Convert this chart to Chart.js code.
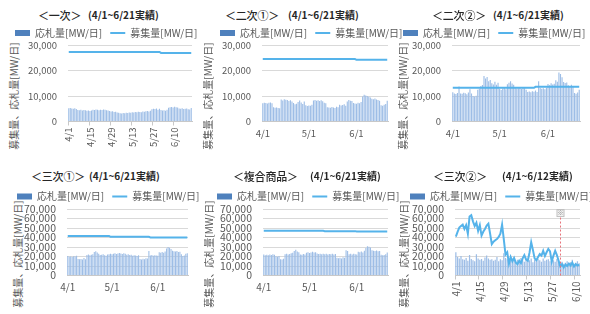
<!DOCTYPE html>
<html>
<head>
<meta charset="utf-8">
<script src="https://cdn.jsdelivr.net/npm/chart.js@4.4.0/dist/chart.umd.min.js"></script>
<style>
  html, body { margin: 0; padding: 0; background: #fff; }
  body { position: relative; width: 590px; height: 314px; overflow: hidden; font-family: "Noto Sans CJK JP", sans-serif; }
  canvas { position: absolute; }
  .ttl { position: absolute; white-space: nowrap; line-height: 16px; color: #262626; }
  .ttl.main { font-size: 11px; font-weight: 500; letter-spacing: -0.2px; }
  .ttl.sub { font-size: 10px; font-weight: bold; }
  .ytitle { position: absolute; white-space: nowrap; font-size: 10px; line-height: 12px; color: #595959;
            transform: translate(-50%, -50%) rotate(-90deg); }
</style>
</head>
<body>
<script>
'use strict';

// 4/1 - 6/21 (82 days) and 4/1 - 6/12 (73 days)
const days621 = dayLabels(82);
const days612 = dayLabels(73);

const TICKS_MONTH = ['4/1', '5/1', '6/1'];
const TICKS_2WEEK = ['4/1', '4/15', '4/29', '5/13', '5/27', '6/10'];

// <一次>
const ichijiBids = [
  5200, 5300, 5100, 5000, 5200, 4900, 4500, 4400, 4600, 4300,
  4500, 4400, 4200, 4300, 4100, 4300, 4600, 4500, 4700, 4600,
  4400, 4600, 4500, 4700, 4600, 4400, 4300, 4100, 3900, 4000,
  3700, 3800, 3500, 3400, 3200, 3100, 3300, 3200, 3400, 3300,
  3500, 3400, 3600, 3500, 3700, 3600, 3800, 3700, 3600, 3900,
  3800, 4000, 4100, 3900, 4200, 4800, 5000, 4900, 5100, 4600,
  5000, 4500, 4300, 4400, 4200, 4600, 5400, 5600, 5700, 5500,
  5800, 5600, 5500, 5100, 5000, 5200, 4900, 5000, 5100, 4800,
  4700, 5300
];
const ichijiRecruit = [
  27300, 27300, 27300, 27300, 27300, 27300, 27300, 27300, 27300, 27300,
  27300, 27300, 27300, 27300, 27300, 27300, 27300, 27300, 27300, 27300,
  27300, 27300, 27300, 27300, 27300, 27300, 27300, 27300, 27300, 27300,
  27300, 27300, 27300, 27300, 27300, 27300, 27300, 27300, 27300, 27300,
  27300, 27300, 27300, 27300, 27300, 27300, 27300, 27300, 27300, 27300,
  27300, 27300, 27300, 27300, 27300, 27300, 27300, 27300, 27300, 27300,
  27300, 26900, 26900, 26900, 26900, 26900, 26900, 26900, 26900, 26900,
  26900, 26900, 26900, 26900, 26900, 26900, 26900, 26900, 26900, 26900,
  26900, 26900
];

// <二次①>
const niji1Bids = [
  7200, 7400, 7300, 7100, 7400, 7500, 7200, 5600, 5400, 5500,
  5300, 5200, 8600, 8200, 8700, 8500, 8400, 8000, 8300, 7800,
  7300, 6800, 7000, 7600, 8200, 7500, 6900, 7800, 6400, 6100,
  6300, 6200, 6600, 8200, 8400, 8100, 8300, 8000, 8300, 7900,
  7400, 7200, 5600, 5500, 5400, 5700, 5500, 5300, 5800, 5600,
  6600, 6300, 6500, 6800, 6200, 7800, 8400, 8100, 8000, 7300,
  7100, 7000, 7400, 7200, 7600, 9800, 10500, 10200, 10000, 9700,
  9400, 8900, 8700, 9000, 8600, 8400, 8100, 6400, 6200, 6600,
  6900, 8100
];
const niji1Recruit = [
  24500, 24500, 24500, 24500, 24500, 24500, 24500, 24500, 24500, 24500,
  24500, 24500, 24500, 24500, 24500, 24500, 24500, 24500, 24500, 24500,
  24500, 24500, 24500, 24500, 24500, 24500, 24500, 24500, 24500, 24500,
  24500, 24500, 24500, 24500, 24500, 24500, 24500, 24500, 24500, 24500,
  24500, 24500, 24500, 24500, 24500, 24500, 24500, 24500, 24500, 24500,
  24500, 24500, 24500, 24500, 24500, 24500, 24500, 24500, 24500, 24500,
  24500, 24200, 24200, 24200, 24200, 24200, 24200, 24200, 24200, 24200,
  24200, 24200, 24200, 24200, 24200, 24200, 24200, 24200, 24200, 24200,
  24200, 24200
];

// <二次②>
const niji2Bids = [
  11500, 11000, 10800, 11200, 13700, 11000, 10900, 11300, 11100, 10700,
  11400, 12600, 11000, 10000, 9800, 10100, 12500, 12800, 13900, 14300,
  17800, 16900, 17500, 15800, 16300, 15000, 14500, 15600, 14400, 15200,
  12800, 12400, 12900, 13100, 12600, 14600, 15200, 15800, 14900, 14400,
  13300, 12900, 13000, 13400, 12700, 13200, 13000, 12500, 11600, 11800,
  11500, 11900, 11700, 12200, 11600, 15800, 13100, 12800, 13000, 12600,
  13200, 14700, 14200, 15000, 14500, 14800, 16200, 15600, 19200, 18600,
  17400, 15500, 15100, 15300, 14200, 13900, 14400, 13800, 11200, 10900,
  11400, 12500
];
const niji2Recruit = [
  13200, 13200, 13200, 13200, 13200, 13200, 13200, 13200, 13200, 13200,
  13200, 13200, 13200, 13200, 13200, 13200, 13200, 13200, 13200, 13200,
  13200, 13200, 13200, 13200, 13200, 13200, 13200, 13200, 13200, 13200,
  13200, 13200, 13200, 13200, 13200, 13200, 13200, 13200, 13200, 13200,
  13200, 13200, 13200, 13200, 13200, 13200, 13200, 13200, 13200, 13200,
  13200, 13200, 13200, 13600, 13600, 13600, 13600, 13600, 13600, 13600,
  13600, 13600, 13600, 13600, 13600, 13600, 13600, 13600, 13600, 13600,
  13600, 13600, 13600, 13600, 13600, 13600, 13600, 13600, 13600, 13600,
  13600, 13600
];

// <三次①>
const sanji1Bids = [
  20500, 19800, 20100, 19600, 20300, 19900, 20800, 17500, 17000, 17300,
  16800, 18500, 17200, 21500, 22000, 21200, 21800, 22500, 24800, 25600,
  24200, 23000, 21600, 21900, 22400, 21300, 20800, 22000, 22500, 23000,
  22300, 22800, 23500, 22600, 23200, 23800, 23100, 22600, 23400, 22900,
  21800, 22400, 21500, 21900, 20800, 21300, 21000, 20600, 21200, 17400,
  16900, 17600, 17100, 18200, 17800, 25800, 21000, 21500, 20800, 21400,
  21100, 20700, 24500, 24000, 24800, 23900, 25200, 28500, 30000, 29200,
  28000, 26000, 25500, 25200, 25800, 24800, 25000, 22500, 20500, 21000,
  22800, 23500
];
const sanji1Recruit = [
  41700, 41700, 41700, 41700, 41700, 41700, 41700, 41700, 41700, 41700,
  41700, 41700, 41700, 41700, 41700, 41700, 41700, 41700, 41700, 41700,
  41700, 41700, 41700, 41700, 41700, 41700, 41700, 41700, 41700, 40700,
  40700, 40700, 40700, 40700, 40700, 40700, 40700, 40700, 40700, 40700,
  40700, 40700, 40700, 40700, 40700, 40700, 40700, 40700, 40700, 40700,
  40700, 40700, 40700, 40700, 40700, 40700, 40100, 40100, 40100, 40100,
  40100, 40100, 40100, 40100, 40100, 40100, 40100, 40100, 40100, 40100,
  40100, 40100, 40100, 40100, 40100, 40100, 40100, 40100, 40100, 40100,
  40100, 40100
];

// <複合商品>
const fukugoBids = [
  22000, 21400, 21800, 21200, 22100, 21600, 22400, 21800, 20200, 19800,
  20400, 17200, 16800, 17600, 22300, 22800, 22000, 22600, 23400, 23900,
  25800, 27000, 25200, 24600, 22200, 21800, 22600, 22100, 24000, 24500,
  23800, 24300, 25000, 24100, 24600, 23200, 22600, 22900, 22300, 23000,
  22500, 22800, 22100, 22700, 22400, 22900, 22200, 22600, 18800, 18200,
  18600, 18000, 19200, 18700, 26600, 25800, 22500, 22900, 22200, 22800,
  22400, 22100, 25000, 24500, 25200, 24300, 26000, 29000, 30800, 30200,
  29400, 26500, 26000, 25700, 26300, 25400, 25800, 21800, 21200, 21700,
  22300, 24200
];
const fukugoRecruit = [
  47000, 47000, 47000, 47000, 47000, 47000, 47000, 47000, 47000, 47000,
  47000, 47000, 47000, 47000, 47000, 47000, 47000, 47000, 47000, 47000,
  47000, 47000, 47000, 47000, 47000, 47000, 47000, 47000, 47000, 47000,
  47000, 47000, 47000, 47000, 47000, 47000, 47000, 47000, 47000, 47000,
  46700, 46700, 46700, 46700, 46700, 46700, 46700, 46700, 46700, 46700,
  46700, 46700, 46700, 46700, 46700, 46700, 46700, 46700, 46700, 46700,
  46700, 46300, 46300, 46300, 46300, 46300, 46300, 46300, 46300, 46300,
  46300, 46300, 46300, 46300, 46300, 46300, 46300, 46300, 46300, 46300,
  46300, 46300
];

// <三次②> (4/1 - 6/12)
const sanji2Bids = [
  24500, 19500, 18000, 20500, 17000, 16500, 18500, 15500, 21500, 17500,
  16000, 15000, 22500, 18000, 16500, 17500, 15500, 19000, 21000, 18000,
  16500, 17000, 15500, 16500, 19500, 15000, 17000, 16000, 23500, 18500,
  17000, 14500, 16000, 15500, 17500, 14500, 16500, 15000, 18500, 16000,
  14500, 17000, 15500, 16000, 18000, 14000, 16500, 15000, 17500, 16000,
  14500, 18000, 15500, 16500, 17000, 15000, 19000, 16000, 14500, 17500,
  15500, 13000, 14500, 12500, 13500, 15000, 12000, 14000, 16500, 12500,
  13500, 15000, 13000
];
const sanji2Recruit = [
  41000, 46000, 50500, 52000, 53500, 49000, 53000, 44000, 62000, 63500,
  57000, 52000, 55500, 47000, 53000, 42000, 46000, 49000, 52500, 54500,
  44000, 33000, 35500, 37000, 38500, 40500, 44000, 53500, 38000, 22000,
  24500, 12500, 19500, 15000, 18500, 13500, 12000, 15500, 13000, 18000,
  21500, 17000, 15500, 24000, 35000, 27000, 18000, 16000, 19500, 22500,
  21000, 26000, 20500, 24500, 28000, 25500, 14500, 21000, 26000, 21500,
  15500, 9500, 12000, 8500, 11500, 10000, 12500, 10500, 13500, 9500,
  12000, 10500, 11500
];

const BAR_COLOR = '#9dbde6';
const LEGEND_BAR = '#4f81bd';
const LINE_COLOR = '#55b3ea';
const TEXT_GRAY = '#595959';
const GRID_COLOR = '#d9d9d9';
const AXIS_COLOR = '#c8c8c8';
const FONT = '"Noto Sans CJK JP", sans-serif';
const CANVAS_W = 210;

const ROWS = {
  top: { top: 0, height: 155, padTop: 20, legendH: 25, xAxisH: 33.5, yFont: 9.5, xFont: 9.5, titleY: 15, yTitleY: 96 },
  bottom: { top: 155, height: 159, padTop: 28.5, legendH: 25.5, xAxisH: 38.5, yFont: 10.5, xFont: 10, titleY: 175.5, yTitleY: 254 }
};

const PANELS = [
  { title: '＜一次＞', sub: '(4/1~6/21実績)', bids: ichijiBids, recruit: ichijiRecruit, labels: days621,
    xTicks: TICKS_2WEEK, rotated: true, yMax: 30000, row: ROWS.top,
    legendLeft: 15, plotLeft: 68, plotRight: 192, titleX: 38, subX: 88, yTitleX: 14 },
  { title: '＜二次①＞', sub: '(4/1~6/21実績)', bids: niji1Bids, recruit: niji1Recruit, labels: days621,
    xTicks: TICKS_MONTH, rotated: false, yMax: 30000, row: ROWS.top,
    legendLeft: 220, plotLeft: 262, plotRight: 388, titleX: 225, subX: 288, yTitleX: 208 },
  { title: '＜二次②＞', sub: '(4/1~6/21実績)', bids: niji2Bids, recruit: niji2Recruit, labels: days621,
    xTicks: TICKS_MONTH, rotated: false, yMax: 30000, row: ROWS.top,
    legendLeft: 403, plotLeft: 452, plotRight: 580, titleX: 432, subX: 493, yTitleX: 403 },
  { title: '＜三次①＞', sub: '(4/1~6/21実績)', bids: sanji1Bids, recruit: sanji1Recruit, labels: days621,
    xTicks: TICKS_MONTH, rotated: false, yMax: 70000, row: ROWS.bottom,
    legendLeft: 17, plotLeft: 67, plotRight: 188, titleX: 31, subX: 89, yTitleX: 18 },
  { title: '＜複合商品＞', sub: '(4/1~6/21実績)', bids: fukugoBids, recruit: fukugoRecruit, labels: days621,
    xTicks: TICKS_MONTH, rotated: false, yMax: 70000, row: ROWS.bottom,
    legendLeft: 217, plotLeft: 263, plotRight: 388, titleX: 233, subX: 310, yTitleX: 209 },
  { title: '＜三次②＞', sub: '(4/1~6/12実績)', bids: sanji2Bids, recruit: sanji2Recruit, labels: days612,
    xTicks: TICKS_2WEEK, rotated: true, yMax: 70000, row: ROWS.bottom,
    legendLeft: 410, plotLeft: 455, plotRight: 580, titleX: 433, subX: 502, yTitleX: 404,
    marker: { label: '6/1', from: 61000 } }
];

function dayLabels(count) {
  const months = [[4, 30], [5, 31], [6, 30]];
  const out = [];
  for (const [m, n] of months) {
    for (let d = 1; d <= n && out.length < count; d++) out.push(m + '/' + d);
  }
  return out;
}

/* red dashed line with the ※ note (三次② only) */
const markerPlugin = {
  id: 'marker',
  afterDatasetsDraw(chart, args, opts) {
    if (!opts || !opts.label) return;
    const {ctx, scales: {x, y}} = chart;
    const px = Math.round(x.getPixelForValue(chart.data.labels.indexOf(opts.label))) + 0.5;
    const yTop = y.getPixelForValue(opts.from);
    ctx.save();
    ctx.strokeStyle = '#e8727a';
    ctx.lineWidth = 1;
    ctx.setLineDash([2, 2]);
    ctx.beginPath();
    ctx.moveTo(px, yTop);
    ctx.lineTo(px, y.getPixelForValue(0));
    ctx.stroke();
    ctx.setLineDash([]);
    ctx.fillStyle = '#f2f2f2';
    ctx.strokeStyle = '#bfbfbf';
    ctx.fillRect(px - 3.5, yTop - 8, 7, 7);
    ctx.strokeRect(px - 3.5, yTop - 8, 7, 7);
    ctx.fillStyle = '#7f7f7f';
    ctx.font = '6px ' + FONT;
    ctx.textAlign = 'center';
    ctx.textBaseline = 'middle';
    ctx.fillText('※', px, yTop - 4.5);
    ctx.restore();
  }
};

function addText(cls, text, left, top) {
  const el = document.createElement('div');
  el.className = cls;
  el.textContent = text;
  el.style.left = left + 'px';
  el.style.top = top + 'px';
  document.body.appendChild(el);
}

function makePanel(p) {
  const row = p.row;
  const canvasLeft = p.legendLeft - 8;

  addText('ttl main', p.title, p.titleX, row.titleY - 8);
  addText('ttl sub', p.sub, p.subX, row.titleY - 8);
  addText('ytitle', '募集量、応札量[MW/日]', p.yTitleX, row.yTitleY);

  const canvas = document.createElement('canvas');
  canvas.width = CANVAS_W;
  canvas.height = row.height;
  canvas.style.left = canvasLeft + 'px';
  canvas.style.top = row.top + 'px';
  canvas.style.width = CANVAS_W + 'px';
  canvas.style.height = row.height + 'px';
  document.body.appendChild(canvas);

  const showTick = (index) => p.xTicks.includes(p.labels[index]);

  return new Chart(canvas, {
    data: {
      labels: p.labels,
      datasets: [
        { type: 'bar', label: '応札量[MW/日]', data: p.bids, backgroundColor: BAR_COLOR,
          barPercentage: 0.72, categoryPercentage: 1, order: 2 },
        { type: 'line', label: '募集量[MW/日]', data: p.recruit, borderColor: LINE_COLOR,
          backgroundColor: LINE_COLOR, borderWidth: 2, pointRadius: 0, tension: 0, order: 1 }
      ]
    },
    plugins: p.marker ? [markerPlugin] : [],
    options: {
      responsive: false,
      animation: false,
      devicePixelRatio: 1,
      events: [],
      layout: { padding: { top: row.padTop, left: 0, right: 0, bottom: 0 } },
      plugins: {
        title: { display: false },
        tooltip: { enabled: false },
        marker: p.marker || false,
        legend: {
          position: 'top',
          align: 'start',
          maxHeight: row.legendH,
          labels: {
            usePointStyle: true,
            pointStyleWidth: 15,
            boxHeight: 6,
            padding: 8,
            color: TEXT_GRAY,
            font: { family: FONT, size: 10 },
            generateLabels: (chart) => chart.data.datasets.map((ds, i) => ({
              text: ds.label,
              fillStyle: ds.type === 'bar' ? LEGEND_BAR : LINE_COLOR,
              strokeStyle: ds.type === 'bar' ? LEGEND_BAR : LINE_COLOR,
              lineWidth: ds.type === 'bar' ? 0 : 2,
              pointStyle: ds.type === 'bar' ? 'rect' : 'line',
              fontColor: TEXT_GRAY,
              hidden: false,
              datasetIndex: i
            }))
          }
        }
      },
      scales: {
        x: {
          type: 'category',
          offset: true,
          grid: {
            display: true,
            drawOnChartArea: false,
            drawTicks: p.rotated,
            tickLength: 4,
            tickColor: (ctx) => showTick(ctx.index) ? AXIS_COLOR : 'rgba(0,0,0,0)'
          },
          border: { display: true, color: AXIS_COLOR },
          ticks: {
            autoSkip: false,
            maxRotation: p.rotated ? 90 : 0,
            minRotation: p.rotated ? 90 : 0,
            padding: p.rotated ? 2 : 6,
            color: TEXT_GRAY,
            font: { family: FONT, size: row.xFont },
            callback: (value, index) => showTick(index) ? p.labels[index] : ''
          },
          afterFit: (scale) => { scale.height = row.xAxisH; }
        },
        y: {
          min: 0,
          max: p.yMax,
          grid: { color: GRID_COLOR, drawTicks: false },
          border: { display: false },
          ticks: {
            stepSize: 10000,
            autoSkip: false,
            padding: 11,
            color: TEXT_GRAY,
            font: { family: FONT, size: row.yFont },
            callback: (v) => v.toLocaleString('en-US')
          },
          afterFit: (scale) => { scale.width = p.plotLeft - canvasLeft; }
        },
        // empty axis that only keeps the plot's right edge in place
        pad: {
          type: 'linear',
          axis: 'y',
          position: 'right',
          display: true,
          grid: { display: false },
          border: { display: false },
          ticks: { display: false },
          afterFit: (scale) => { scale.width = canvasLeft + CANVAS_W - p.plotRight; }
        }
      }
    }
  });
}

PANELS.forEach(makePanel);
</script>
</body>
</html>
